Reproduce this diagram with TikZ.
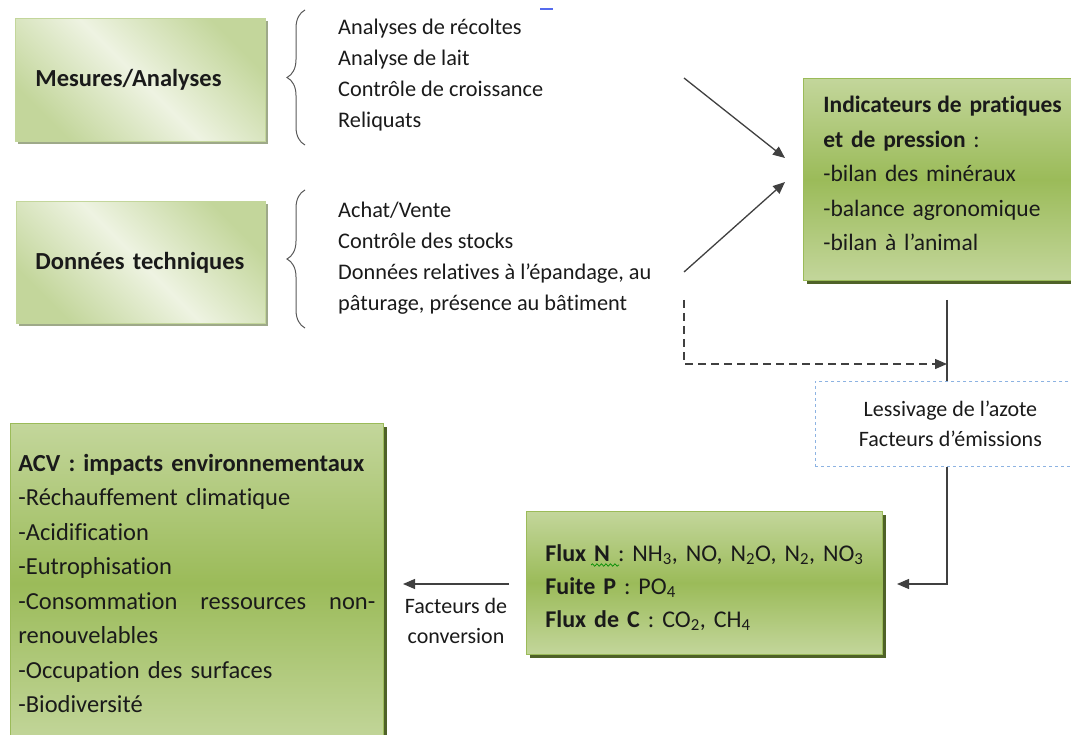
\documentclass[tikz,border=0pt]{standalone}
\usepackage{fontspec}
\setmainfont{Carlito}[Ligatures=NoCommon]
\usetikzlibrary{arrows.meta,shadows,decorations.pathreplacing,decorations.pathmorphing}
\definecolor{olivemid}{HTML}{9BBB59}
\definecolor{olivelight}{HTML}{C3D69B}
\definecolor{olivepale}{HTML}{EEF3E2}
\definecolor{oliveshade}{HTML}{4F6228}
\definecolor{inkgray}{HTML}{404040}
\definecolor{notesblue}{HTML}{8DB3E2}
\definecolor{textink}{HTML}{1A1A1A}

\begin{document}
\begin{tikzpicture}[x=1pt,y=-1pt,text=textink,
		listtext/.style={anchor=north west,inner sep=0pt,align=left,font=\fontsize{22.3}{31}\selectfont},
		palebox/.style={draw=olivelight,line width=0.8pt,left color=olivelight,right color=olivelight,middle color=olivepale,shading angle=135,
			drop shadow={shadow xshift=3pt,shadow yshift=-3pt,fill=oliveshade!55,opacity=1},
			anchor=north west,inner xsep=20pt,align=left,font=\fontsize{24.5}{30}\selectfont\bfseries},
		greenbox/.style={draw=olivemid,line width=0.8pt,top color=olivelight,bottom color=olivelight,middle color=olivemid,
			drop shadow={shadow xshift=4pt,shadow yshift=-4pt,fill=oliveshade,opacity=1},
			anchor=north west,align=left,font=\fontsize{24.5}{34.5}\selectfont},
		notebox/.style={draw=notesblue,dashed,line width=0.8pt,anchor=north west,align=center,font=\fontsize{22}{30}\selectfont},
		conn/.style={draw=inkgray,line width=1.3pt,-{Triangle[length=12pt,width=10pt]}},
		bracket/.style={draw=black!65,line width=1pt,decorate,decoration={brace,amplitude=18pt}}
	]
	\useasboundingbox (0,0) rectangle (1071,735);
	\path
	(684,78) coordinate (MesOut)
	(785,158) coordinate (IndInA)
	(684,272) coordinate (DonOut)
	(785,182) coordinate (IndInB)
	(684,300) coordinate (DonDash)
	(947,364) coordinate (DashEnd)
	(947,300) coordinate (IndOut)
	(897,584) coordinate (FluxIn)
	(509,584) coordinate (FluxOut)
	(403,584) coordinate (AcvIn)
	;
	
	\node[palebox,minimum width=250pt,minimum height=123pt,text width=210pt] (mes) at (15,18) {Mesures/Analyses};
	\node[palebox,minimum width=249pt,minimum height=122pt,inner xsep=19pt,text width=211pt] (don) at (16,201) {\mbox{Données techniques}};
	
	\draw[bracket] (305,145) -- (305,10);
	\draw[bracket] (305,328) -- (305,190);
	\draw[notesblue!60!blue,line width=1.5pt] (540,9) -- (553,9);
	
	\node[listtext] (mesList) at (338,19) {Analyses de récoltes\\Analyse de lait\\Contrôle de croissance\\Reliquats};
	\node[listtext] (donList) at (338,202) {Achat/Vente\\Contrôle des stocks\\Données relatives à l’épandage, au\\pâturage, présence au bâtiment};
	
	\node[greenbox,minimum width=297pt,minimum height=202pt,inner xsep=20pt,text width=257pt,font=\fontsize{23.5}{34.5}\selectfont] (ind) at (803,78)
	{\textbf{Indicateurs\hspace{-2pt} de pratiques}\\\textbf{et de pression} :\\-bilan des minéraux\\-balance agronomique\\-bilan à l’animal\rule[-12pt]{0pt}{12pt}};
	
	\node[notebox,minimum width=270pt,minimum height=85pt] (note) at (815,381) {Lessivage de l’azote\\Facteurs d’émissions};
	
	\node[greenbox,minimum width=356pt,minimum height=143pt,inner xsep=19pt,text width=318pt,font=\fontsize{24}{33}\selectfont] (flux) at (526,511)
	{\mbox{\rule{0pt}{26pt}\textbf{Flux N} : NH\textsubscript{3}, NO, N\textsubscript{2}O, N\textsubscript{2}, NO\textsubscript{3}}\\\textbf{Fuite P} : PO\textsubscript{4}\\\textbf{Flux de C} : CO\textsubscript{2}, CH\textsubscript{4}};
	\draw[green!55!black,line width=0.7pt,decorate,decoration={snake,amplitude=1.2pt,segment length=4.5pt}] (591,565) -- (619,565);
	
	\node[greenbox,minimum width=373pt,minimum height=320pt,inner xsep=8pt,text width=357pt] (acv) at (10,423)
	{\textbf{ACV : impacts environnementaux}\\-Réchauffement climatique\\-Acidification\\-Eutrophisation\\-Consommation\hfill ressources\hfill non-\\renouvelables\\-Occupation des surfaces\\-Biodiversité};
	
	\draw[conn] (MesOut) -- (IndInA);
	\draw[conn] (DonOut) -- (IndInB);
	\draw[conn,dash pattern=on 8pt off 5pt] (DonDash) |- (DashEnd);
	\draw[inkgray,line width=1.3pt] (IndOut) -- (note.north -| IndOut);
	\draw[conn] (note.south -| IndOut) |- (FluxIn);
	\draw[conn] (FluxOut) -- (AcvIn) node[midway,below=14pt,inner sep=0pt,align=center,font=\fontsize{22}{30}\selectfont] (convLbl) {Facteurs de\\conversion};
	
\end{tikzpicture}
\end{document}
